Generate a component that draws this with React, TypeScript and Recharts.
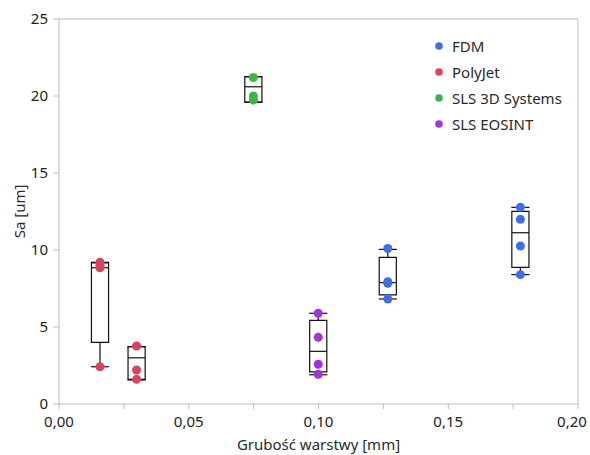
import React from "react"
import { ComposedChart, Scatter, XAxis, YAxis, ZAxis, ReferenceArea, ReferenceLine, Label } from "recharts"

// series points (layer thickness [mm], Sa [um])
const fdmPoints = [
    { x: 0.1267, y: 10.1 }, { x: 0.1267, y: 7.94 }, { x: 0.1267, y: 7.84 }, { x: 0.1267, y: 6.82 },
    { x: 0.1778, y: 12.77 }, { x: 0.1778, y: 11.99 }, { x: 0.1778, y: 10.26 }, { x: 0.1778, y: 8.4 },
]
const polyjetPoints = [
    { x: 0.0158, y: 9.2 }, { x: 0.0158, y: 9.0 }, { x: 0.0158, y: 8.85 }, { x: 0.0158, y: 2.42 },
    { x: 0.0299, y: 3.77 }, { x: 0.0299, y: 2.21 }, { x: 0.0299, y: 1.6 },
]
const sls3dPoints = [
    { x: 0.0749, y: 21.2 }, { x: 0.0749, y: 20.0 }, { x: 0.0749, y: 19.74 },
]
const eosintPoints = [
    { x: 0.0999, y: 5.89 }, { x: 0.0999, y: 4.33 }, { x: 0.0999, y: 2.58 }, { x: 0.0999, y: 1.93 },
]

// box plot stats per group
const boxX = [0.0158, 0.0299, 0.0749, 0.0999, 0.1267, 0.1778]
const boxQ1 = [4.0, 1.6, 19.6, 2.08, 7.08, 8.87]
const boxMedian = [8.85, 3.0, 20.6, 3.42, 7.88, 11.12]
const boxQ3 = [9.17, 3.72, 21.25, 5.43, 9.52, 12.51]
const whiskerLow = [2.42, 1.56, 19.6, 1.9, 6.82, 8.4]
const whiskerHigh = [9.2, 3.72, 21.25, 5.89, 10.04, 12.77]

const xTicks = [0, 0.025, 0.05, 0.075, 0.1, 0.125, 0.15, 0.175, 0.2]
const yTicks = [0, 5, 10, 15, 20, 25]

const series = [
    { name: "FDM", color: "#3f6fe0", data: fdmPoints },
    { name: "PolyJet", color: "#d9435b", data: polyjetPoints },
    { name: "SLS 3D Systems", color: "#3cb44a", data: sls3dPoints },
    { name: "SLS EOSINT", color: "#a433dc", data: eosintPoints },
]

const FONT = "'Noto Sans', sans-serif"
const AXIS = "#bcbcbc"
const HALF_BOX = 0.0033
const HALF_CAP = 0.0035

function LegendBox() {
    return (
        <div style={{ position: "absolute", left: 435, top: 33, fontFamily: FONT, fontSize: 15, color: "#2a2a2a" }}>
            {series.map(s => (
                <div key={s.name} style={{ display: "flex", alignItems: "center", height: 26 }}>
                    <svg width={8} height={8} style={{ marginRight: 9 }}><circle cx={4} cy={4} r={3.8} fill={s.color} /></svg>
                    <span>{s.name}</span>
                </div>
            ))}
        </div>
    )
}

const isMajor = (v: number) => Math.round(v * 1000) % 50 === 0

function XTick({ x, y, payload }: any) {
    if (!isMajor(payload.value)) return null
    const shift = payload.value >= 0.2 ? -6 : 0
    return (
        <text x={x + shift} y={y} dy="0.71em" textAnchor="middle" fill="#222" fontSize={15} fontFamily={FONT}>
            {payload.value.toFixed(2).replace(".", ",")}
        </text>
    )
}

export default function App() {
    return (
        <div style={{ position: "absolute", left: 0, top: 0, width: 590, height: 455, background: "#fff" }}>
            <ComposedChart width={590} height={455} margin={{ top: 19, right: 12, left: 0, bottom: 0 }}>
                <XAxis type="number" dataKey="x" domain={[0, 0.2]} ticks={xTicks} interval={0}
                    stroke={AXIS} tickSize={5} tickMargin={7} height={51} tick={<XTick />}>
                    <Label content={({ viewBox }: any) => (
                        <text x={viewBox.x + viewBox.width / 2} y={viewBox.y + 46} textAnchor="middle" fill="#2a2a2a" fontSize={15} fontFamily={FONT}>Grubość warstwy [mm]</text>
                    )} />
                </XAxis>
                <YAxis type="number" dataKey="y" domain={[0, 25]} ticks={yTicks} interval={0}
                    stroke={AXIS} tickSize={6} tickMargin={5} width={59}
                    tick={{ fill: "#222", fontSize: 15, fontFamily: FONT }}>
                    <Label content={({ viewBox }: any) => (
                        <text x={19} y={viewBox.y + viewBox.height / 2} transform={`rotate(-90, 19, ${viewBox.y + viewBox.height / 2})`}
                            textAnchor="middle" dominantBaseline="central" fill="#2a2a2a" fontSize={15} fontFamily={FONT}>Sa [um]</text>
                    )} />
                </YAxis>
                <ZAxis range={[70, 70]} />
                <ReferenceLine y={25} stroke={AXIS} />
                <ReferenceLine x={0.2} stroke={AXIS} />

                {boxX.map((x, i) => (
                    <React.Fragment key={i}>
                        <ReferenceLine segment={[{ x, y: whiskerLow[i] }, { x, y: boxQ1[i] }]} stroke="#111" strokeWidth={1.2} />
                        <ReferenceLine segment={[{ x, y: boxQ3[i] }, { x, y: whiskerHigh[i] }]} stroke="#111" strokeWidth={1.2} />
                        <ReferenceLine segment={[{ x: x - HALF_CAP, y: whiskerLow[i] }, { x: x + HALF_CAP, y: whiskerLow[i] }]} stroke="#111" strokeWidth={1.2} />
                        <ReferenceLine segment={[{ x: x - HALF_CAP, y: whiskerHigh[i] }, { x: x + HALF_CAP, y: whiskerHigh[i] }]} stroke="#111" strokeWidth={1.2} />
                        <ReferenceArea x1={x - HALF_BOX} x2={x + HALF_BOX} y1={boxQ1[i]} y2={boxQ3[i]} fill="#fff" fillOpacity={1} stroke="#111" strokeWidth={1.2} />
                        <ReferenceLine segment={[{ x: x - HALF_BOX, y: boxMedian[i] }, { x: x + HALF_BOX, y: boxMedian[i] }]} stroke="#111" strokeWidth={1.2} />
                    </React.Fragment>
                ))}

                {series.map(s => (
                    <Scatter key={s.name} name={s.name} data={s.data} fill={s.color} isAnimationActive={false} />
                ))}
            </ComposedChart>
            <LegendBox />
        </div>
    )
}
